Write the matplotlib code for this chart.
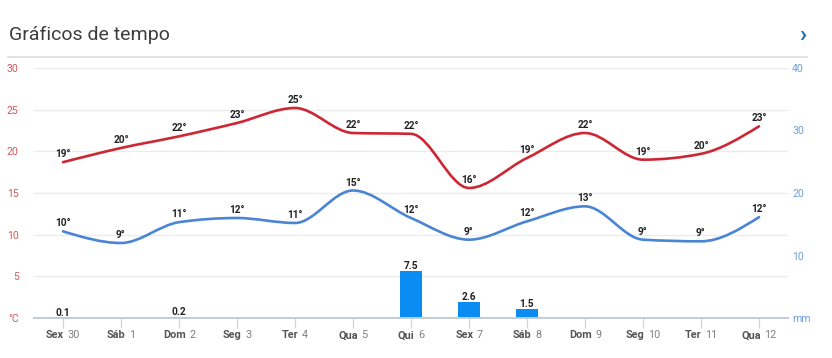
import numpy as np
import matplotlib
matplotlib.use("Agg")
import matplotlib.pyplot as plt
from matplotlib.path import Path
from matplotlib.patches import PathPatch
from matplotlib.lines import Line2D
from matplotlib.offsetbox import TextArea, HPacker, AnnotationBbox

# dados
dias = ["Sex", "Sáb", "Dom", "Seg", "Ter", "Qua", "Qui", "Sex", "Sáb", "Dom", "Seg", "Ter", "Qua"]
datas = ["30", "1", "2", "3", "4", "5", "6", "7", "8", "9", "10", "11", "12"]
t_max = [18.7, 20.4, 21.8, 23.4, 25.2, 22.2, 22.1, 15.6, 19.2, 22.2, 19.0, 19.7, 23.0]
t_max_lbl = [19, 20, 22, 23, 25, 22, 22, 16, 19, 22, 19, 20, 23]
t_min = [10.4, 9.0, 11.5, 12.0, 11.4, 15.3, 12.0, 9.4, 11.6, 13.4, 9.4, 9.2, 12.1]
t_min_lbl = [10, 9, 11, 12, 11, 15, 12, 9, 12, 13, 9, 9, 12]
chuva = [0.1, 0, 0.2, 0, 0, 0, 7.5, 2.6, 1.5, 0, 0, 0, 0]
temp_ticks = [5, 10, 15, 20, 25, 30]
mm_ticks = [10, 20, 30, 40]

VERM = "#cc2733"
AZUL = "#4a85d4"
BARRA = "#0a8cf2"
FONTE = "Roboto"


def monotone_path(x, y):
    # curva monotona (como d3.curveMonotoneX), segmentos de bezier cubica
    x = np.asarray(x, float)
    y = np.asarray(y, float)
    n = len(x)
    h = np.diff(x)
    s = np.diff(y) / h
    t = np.zeros(n)
    for i in range(1, n - 1):
        p = (s[i - 1] * h[i] + s[i] * h[i - 1]) / (h[i - 1] + h[i])
        t[i] = (np.sign(s[i - 1]) + np.sign(s[i])) * min(abs(s[i - 1]), abs(s[i]), 0.5 * abs(p))
    t[0] = (3 * s[0] - t[1]) / 2
    t[-1] = (3 * s[-1] - t[-2]) / 2
    verts = [(x[0], y[0])]
    codes = [Path.MOVETO]
    for i in range(n - 1):
        dx = h[i] / 3
        verts += [(x[i] + dx, y[i] + dx * t[i]), (x[i + 1] - dx, y[i + 1] - dx * t[i + 1]), (x[i + 1], y[i + 1])]
        codes += [Path.CURVE4] * 3
    return Path(verts, codes)


fig = plt.figure(figsize=(8.32, 3.58), dpi=100)
W, H = 832, 358
ax = fig.add_axes([34 / W, 1 - 318 / H, 754 / W, 250 / H])
ax2 = ax.twinx()

xs = np.arange(len(dias))
ax.set_xlim(-0.5, 12.5)
ax.set_ylim(0, 30)
ax2.set_ylim(0, 40)

# barras de chuva
ax2.bar(xs, chuva, width=0.38, color=BARRA, zorder=1, linewidth=0)
for i, v in enumerate(chuva):
    if v > 0:
        ax2.annotate(f"{v:.1f}", (xs[i], v), xytext=(0, 1.2), textcoords="offset points",
                     ha="center", va="baseline", fontsize=7.3, fontweight="bold",
                     color="#222222", family=FONTE)

# linhas de temperatura
ax.add_patch(PathPatch(monotone_path(xs, t_max), fill=False, ec=VERM, lw=1.9, zorder=3,
                       capstyle="round", joinstyle="round"))
ax.add_patch(PathPatch(monotone_path(xs, t_min), fill=False, ec=AZUL, lw=1.9, zorder=3,
                       capstyle="round", joinstyle="round"))
for serie, lbls in [(t_max, t_max_lbl), (t_min, t_min_lbl)]:
    for i, v in enumerate(serie):
        ax.annotate(f"{lbls[i]}°", (xs[i], v), xytext=(0, 3.6), textcoords="offset points",
                    ha="center", va="baseline", fontsize=7.3, fontweight="bold",
                    color="#222222", family=FONTE, zorder=4)

# eixos
ax.set_yticks([0] + temp_ticks)
ax.set_yticklabels(["°C"] + [str(v) for v in temp_ticks])
ax2.set_yticks([0] + mm_ticks)
ax2.set_yticklabels(["mm"] + [str(v) for v in mm_ticks])
ax.tick_params(axis="y", length=0, pad=11, labelsize=7.6, labelcolor="#d0585a")
ax2.tick_params(axis="y", length=0, pad=3, labelsize=7.6, labelcolor="#6e9fd8")
for lab in ax.get_yticklabels() + ax2.get_yticklabels():
    lab.set_family(FONTE)
for v in temp_ticks:
    ax.axhline(v, color="#ebebeb", lw=0.9, zorder=0)

ax.set_xticks(xs)
ax.set_xticklabels([])
ax.tick_params(axis="x", length=7, width=0.9, color="#cfd3da")
for a in (ax, ax2):
    for sp in ("top", "left", "right"):
        a.spines[sp].set_visible(False)
ax2.spines["bottom"].set_visible(True)
ax2.spines["bottom"].set_color("#c5ccd8")
ax2.spines["bottom"].set_linewidth(1.4)
ax2.spines["bottom"].set_zorder(5)
ax.spines["bottom"].set_visible(False)

# rotulos do eixo x: dia em negrito + data
for i in xs:
    p1 = TextArea(dias[i], textprops=dict(fontsize=7.8, fontweight="bold", color="#555555", family=FONTE))
    p2 = TextArea(datas[i], textprops=dict(fontsize=7.8, color="#808080", family=FONTE))
    box = HPacker(children=[p1, p2], pad=0, sep=2.5, align="baseline")
    ab = AnnotationBbox(box, (i, 0), xycoords=ax.get_xaxis_transform(), xybox=(0, -9),
                        boxcoords="offset points", box_alignment=(0.5, 1), frameon=False,
                        annotation_clip=False)
    ax.add_artist(ab)

# cabecalho
fig.text(9 / W, 1 - 35 / H, "Gráficos de tempo", fontsize=14, color="#3d3d3d",
         family=FONTE, va="center", ha="left")
fig.text(803 / W, 1 - 35 / H, "›", fontsize=17, color="#1d6db5", fontweight="bold",
         family=FONTE, va="center", ha="center")
fig.add_artist(Line2D([8 / W, 807 / W], [1 - 57 / H, 1 - 57 / H], color="#dddddd", lw=1.2))

fig.savefig("out.png", dpi=100)
